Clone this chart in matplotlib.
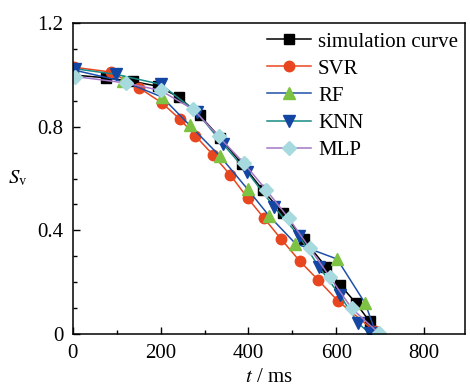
import matplotlib
matplotlib.use("Agg")
import matplotlib.pyplot as plt
from matplotlib.ticker import MultipleLocator, FuncFormatter

plt.rcParams['font.family'] = ['Liberation Serif', 'DejaVu Serif']
plt.rcParams['mathtext.fontset'] = 'stix'

# simulation curve
t_sim = [0, 75, 137, 194, 241, 289, 335, 386, 433, 479, 526, 576, 609, 644, 676, 688]
s_sim = [1.0, 0.989, 0.975, 0.956, 0.915, 0.844, 0.758, 0.655, 0.555, 0.465, 0.365, 0.26, 0.189, 0.121, 0.048, 0.003]

t_svr = [2, 87, 151, 203, 244, 279, 320, 359, 399, 436, 475, 517, 559, 604, 688]
s_svr = [1.03, 1.011, 0.950, 0.892, 0.829, 0.765, 0.690, 0.613, 0.523, 0.446, 0.365, 0.281, 0.208, 0.127, 0.01]

t_rf = [0, 115, 203, 266, 335, 398, 447, 507, 602, 666, 691]
s_rf = [1.02, 0.975, 0.915, 0.806, 0.687, 0.559, 0.456, 0.349, 0.289, 0.118, 0.0]

t_knn = [5, 99, 200, 282, 341, 397, 458, 515, 560, 608, 650, 676]
s_knn = [1.024, 1.002, 0.964, 0.857, 0.735, 0.626, 0.491, 0.379, 0.260, 0.150, 0.041, 0.003]

t_mlp = [5, 121, 200, 274, 332, 389, 441, 492, 540, 585, 635, 697]
s_mlp = [0.994, 0.969, 0.940, 0.867, 0.763, 0.660, 0.555, 0.446, 0.330, 0.221, 0.099, 0.003]

fig = plt.figure(figsize=(4.7, 3.86), dpi=100)
ax = fig.add_axes([0.155, 0.135, 0.834, 0.805])

ax.plot(t_sim, s_sim, '-s', color='black', mfc='black', mec='black', ms=6.5, lw=1.1, label='simulation curve')
ax.plot(t_svr, s_svr, '-o', color='#e8461e', mfc='#e8461e', mec='#e8461e', ms=7.5, lw=1.1, label='SVR')
ax.plot(t_rf, s_rf, '-^', color='#1f4fa8', mfc='#7dc242', mec='#7dc242', ms=8, lw=1.1, label='RF')
ax.plot(t_knn, s_knn, '-v', color='#178a85', mfc='#1346a3', mec='#1346a3', ms=8, lw=1.1, label='KNN')
ax.plot(t_mlp, s_mlp, '-D', color='#a276c4', mfc='#a6dadf', mec='#a6dadf', ms=7, lw=1.1, label='MLP')

ax.set_xlim(0, 893)
ax.set_ylim(0, 1.2)
ax.xaxis.set_major_locator(MultipleLocator(200))
ax.xaxis.set_minor_locator(MultipleLocator(100))
ax.yaxis.set_major_locator(MultipleLocator(0.4))
ax.yaxis.set_minor_locator(MultipleLocator(0.1))
ax.yaxis.set_major_formatter(FuncFormatter(lambda v, p: '0' if abs(v) < 1e-9 else '%.1f' % v))

ax.tick_params(which='both', direction='in', top=False, right=False, labelsize=15, width=1)
ax.tick_params(which='major', length=5, pad=7)
ax.tick_params(which='minor', length=3)
for sp in ax.spines.values():
    sp.set_linewidth(1.1)

ax.set_xlabel('$t$ / ms', fontsize=15, labelpad=4)
ax.set_ylabel(r'$S_{\rm v}$', fontsize=15, rotation=0, labelpad=14, va='center')

ax.legend(loc='upper right', bbox_to_anchor=(1.017, 1.015), frameon=False, fontsize=15,
          handlelength=2.1, handletextpad=0.35, labelspacing=0.36, borderpad=0.15)

fig.savefig('out.png', dpi=100)
